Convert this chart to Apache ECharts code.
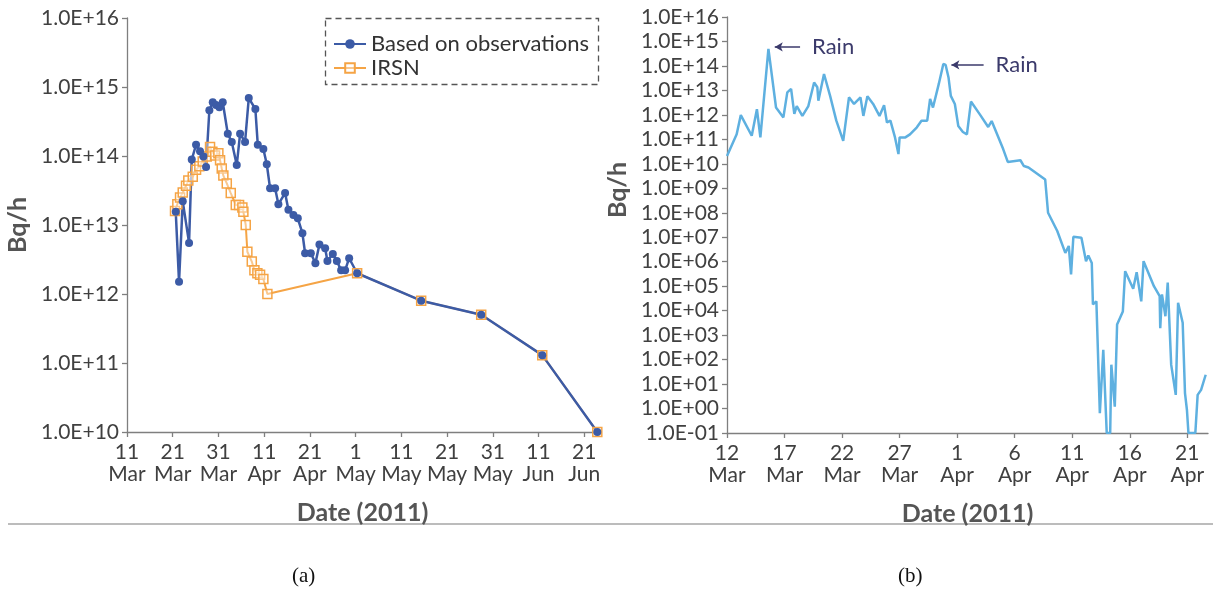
<!DOCTYPE html>
<html>
<head>
<meta charset="utf-8">
<script src="https://cdn.jsdelivr.net/npm/echarts@6/dist/echarts.min.js"></script>
<style>
html,body{margin:0;padding:0;background:#fff;}
#chart{width:1213px;height:601px;}
</style>
</head>
<body>
<div id="chart"></div>
<script>
// ---------- Data ----------
// Panel (a): x = days since 11 Mar 2011
const aTickLabels = ["11\nMar","21\nMar","31\nMar","11\nApr","21\nApr","1\nMay","11\nMay","21\nMay","31\nMay","11\nJun","21\nJun"];
const obsDays = [10.66,11.38,12.19,13.57,14.16,15.10,15.97,16.70,17.29,18.01,18.75,19.47,20.20,20.94,22.04,22.91,24.00,24.73,25.82,26.63,28.07,28.60,29.82,30.57,31.29,32.39,33.11,34.57,35.30,36.39,37.35,38.36,38.95,40.20,41.20,42.08,43.33,43.83,45.01,45.89,46.83,47.70,48.58,50.33,64.33,77.46,90.81,102.85];
const obsValues = [1.55e13,1.5e12,2.2e13,5.5e12,8.9e13,1.45e14,1.17e14,9.8e13,6.9e13,4.6e14,6.0e14,5.5e14,5.1e14,6.0e14,2.1e14,1.6e14,7.4e13,2.1e14,1.6e14,6.9e14,4.8e14,1.45e14,1.26e14,7.6e13,3.4e13,3.4e13,2.0e13,2.9e13,1.66e13,1.4e13,1.25e13,7.6e12,3.9e12,3.9e12,2.8e12,5.2e12,4.6e12,3.0e12,3.8e12,3.0e12,2.2e12,2.2e12,3.3e12,2.0e12,8.0e11,5.0e11,1.3e11,1.0e10];
const irsnDays = [10.50,11.01,11.60,12.19,12.91,13.41,14.38,15.10,15.82,16.56,17.44,18.16,18.67,19.26,19.98,20.35,20.72,21.07,21.82,22.69,23.79,24.51,25.23,25.45,25.97,26.32,27.29,27.86,28.51,29.10,29.82,30.70,50.33,64.33,77.46,90.81,102.85];
const irsnValues = [1.6e13,2.0e13,2.5e13,2.95e13,3.7e13,4.4e13,5.0e13,6.3e13,7.1e13,8.3e13,9.8e13,1.35e14,1.15e14,1.02e14,1.1e14,8.7e13,6.6e13,5.2e13,4.0e13,2.9e13,1.95e13,1.95e13,1.8e13,1.55e13,1.0e13,4.1e12,2.95e12,2.2e12,2.0e12,1.9e12,1.65e12,1.0e12,2.0e12,8.0e11,5.0e11,1.3e11,1.0e10];

// Panel (b): x = days since 12 Mar 2011
const bTickLabels = ["12\nMar","17\nMar","22\nMar","27\nMar","1\nApr","6\nApr","11\nApr","16\nApr","21\nApr"];
const bDays = [0,0.84,1.2,2.15,2.6,2.9,3.6,4.26,4.9,5.24,5.57,5.85,6.06,6.55,7.07,7.57,7.85,7.94,8.43,8.96,9.5,10.1,10.6,11.04,11.6,11.85,12.2,12.7,13.25,13.65,13.9,14.2,14.6,14.9,15.0,15.5,15.9,16.5,16.9,17.4,17.65,17.9,18.4,18.8,19.0,19.25,19.45,19.8,20.1,20.5,20.85,21.2,22.0,22.7,23.0,24.0,24.4,25.5,25.8,26.2,27.65,27.9,28.7,29.4,29.7,29.9,30.1,30.8,31.2,31.4,31.7,31.8,32.1,32.4,32.7,33.0,33.3,33.4,33.7,33.9,34.4,34.5,34.6,35.3,35.6,36.0,36.2,37.1,37.6,37.65,37.8,38.1,38.3,38.6,39.0,39.2,39.6,39.8,39.97,40.1,40.7,40.9,41.2,41.6];
const bValues = [2.1e10,1.6e11,9.8e11,1.4e11,1.7e12,1.2e11,5.0e14,2.0e12,7.9e11,8.3e12,1.15e13,1.1e12,2.3e12,9.1e11,2.3e12,2.1e13,1.35e13,3.8e12,4.7e13,6.0e12,5.8e11,8.7e10,5.2e12,2.8e12,5.2e12,9.1e11,5.8e12,2.8e12,9.1e11,2.5e12,4.9e11,5.8e11,1.2e11,2.5e10,1.2e11,1.2e11,1.6e11,3.1e11,5.8e11,5.8e11,4.5e12,2.0e12,1.8e13,1.2e14,1.1e14,3.4e13,6.0e12,2.8e12,3.5e11,2.0e11,1.6e11,3.5e12,1.0e12,3.2e11,5.6e11,4.0e10,1.2e10,1.4e10,8.1e9,7.1e9,2.3e9,1.0e8,1.8e7,2.3e6,4.4e6,3.0e5,1.05e7,9.5e6,1.05e6,1.8e6,8.9e5,1.8e4,2.4e4,0.65,250,0.1,0.1,62,1.2,2.7e3,9.3e3,6.2e4,4.1e5,7.8e4,3.7e5,2.4e4,1.05e6,1.0e5,3.9e4,1.9e3,4.6e4,5.9e3,1.4e5,62,3.6,2.1e4,3.2e3,4.3,0.87,0.1,0.1,3.6,5.8,24];
const rainArrows = [[6.35, 6.0e14, 4.15, 6.0e14], [22.3, 1.1e14, 19.5, 1.1e14]];

// ---------- Helpers ----------
function pairs(xs, ys){ return xs.map((x,i)=>[x, ys[i]]); }
function sci(v){
  const e = Math.round(Math.log10(v));
  const a = Math.abs(e);
  return '1.0E' + (e < 0 ? '-' : '+') + (a < 10 ? '0' + a : '' + a);
}
const FONT = 'Lato';
const labelColor = '#404040';
const axisColor = '#7f7f7f';
const titleColor = '#555';
const blue = '#3c5ba6';
const orange = '#f5a445';
const lightBlue = '#5eb0e0';
const rainColor = '#3b3a6b';

function xAxisCfg(gridIndex, max, step, labels){
  const vals = labels.map((_, i) => i * step);
  return {
    type: 'value', gridIndex, min: 0, max,
    name: 'Date (2011)', nameLocation: 'middle', nameGap: 68,
    nameTextStyle: {fontFamily: FONT, fontSize: 25, fontWeight: 'bold', color: titleColor},
    axisLine: {show: true, lineStyle: {color: axisColor, width: 1.3}},
    axisTick: {show: true, length: 5, customValues: vals, lineStyle: {color: axisColor, width: 1.3}},
    axisLabel: {customValues: vals, fontFamily: FONT, fontSize: 21, color: labelColor, lineHeight: 22, margin: 9,
      formatter: v => labels[Math.round(v / step)] || ''},
    splitLine: {show: false}
  };
}
function yAxisCfg(gridIndex, min, max, pad){
  return {
    type: 'log', logBase: 10, gridIndex, min, max, interval: 1,
    name: 'Bq/h', nameLocation: 'middle', nameGap: 97, nameRotate: 90,
    nameTextStyle: {fontFamily: FONT, fontSize: 25, fontWeight: 'bold', color: titleColor, padding: pad},
    axisLine: {show: true, lineStyle: {color: axisColor, width: 1.3}},
    axisTick: {show: true, length: 5, lineStyle: {color: axisColor, width: 1.3}},
    axisLabel: {fontFamily: FONT, fontSize: 21, color: labelColor, margin: 8, formatter: sci},
    splitLine: {show: false}, minorTick: {show: false}
  };
}

const chart = echarts.init(document.getElementById('chart'), null, {renderer: 'canvas'});
chart.setOption({
  animation: false,
  backgroundColor: '#fff',
  grid: [
    {left: 127, top: 18, width: 471, height: 414, containLabel: false},
    {left: 727, top: 17, width: 481, height: 416, containLabel: false}
  ],
  xAxis: [ xAxisCfg(0, 103, 10, aTickLabels), xAxisCfg(1, 41.8, 5, bTickLabels) ],
  yAxis: [ yAxisCfg(0, 1e10, 1e16, [0,0,0,0]), yAxisCfg(1, 0.1, 1e16, [0,0,0,70]) ],
  legend: {
    orient: 'vertical', left: 328, top: 28, itemWidth: 32, itemHeight: 12, itemGap: 2,
    data: ['Based on observations', 'IRSN'],
    textStyle: {fontFamily: FONT, fontSize: 22, lineHeight: 22, color: '#333'}
  },
  series: [
    {
      name: 'IRSN', type: 'line', xAxisIndex: 0, yAxisIndex: 0,
      data: pairs(irsnDays, irsnValues),
      symbol: 'rect', symbolSize: 9, showAllSymbol: true,
      lineStyle: {color: orange, width: 2},
      itemStyle: {color: 'rgba(255,255,255,0.4)', borderColor: orange, borderWidth: 1.5}
    },
    {
      name: 'Based on observations', type: 'line', xAxisIndex: 0, yAxisIndex: 0,
      data: pairs(obsDays, obsValues),
      symbol: 'circle', symbolSize: 8, showAllSymbol: true,
      lineStyle: {color: blue, width: 2.5},
      itemStyle: {color: blue}
    },
    {
      name: 'Release rate', type: 'line', xAxisIndex: 1, yAxisIndex: 1,
      data: pairs(bDays, bValues),
      symbol: 'none', lineStyle: {color: lightBlue, width: 2.5},
      markLine: {
        silent: true, symbol: ['none', 'arrow'], symbolSize: [7, 8],
        lineStyle: {color: rainColor, width: 1.5, type: 'solid'},
        label: {show: true, position: 'start', formatter: 'Rain', fontFamily: FONT, fontSize: 22, color: rainColor, distance: 12},
        data: rainArrows.map(r => [{coord: [r[0], r[1]]}, {coord: [r[2], r[3]]}])
      }
    }
  ],
  graphic: [
    {type: 'rect', left: 323, top: 16, shape: {width: 273, height: 66},
     style: {fill: 'none', stroke: '#555', lineWidth: 1.3, lineDash: [6, 4]}, z: 10},
    {type: 'line', shape: {x1: 8, y1: 524, x2: 1213, y2: 524},
     style: {stroke: '#a6a6a6', lineWidth: 1.5}},
    {type: 'text', left: 292, top: 566, style: {text: '(a)', font: '21px "Liberation Serif"', fill: '#111'}},
    {type: 'text', left: 898, top: 566, style: {text: '(b)', font: '21px "Liberation Serif"', fill: '#111'}}
  ]
});
</script>
</body>
</html>
